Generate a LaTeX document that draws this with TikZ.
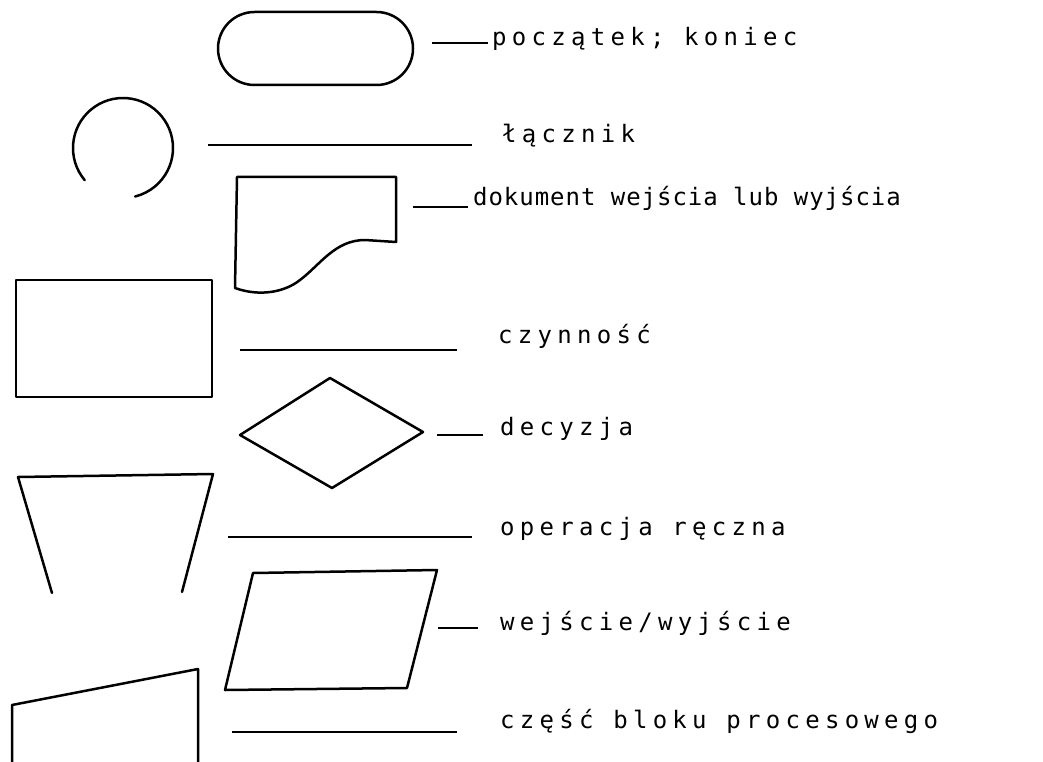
\documentclass[tikz,border=0pt]{standalone}
\usepackage{fontspec}
\setmonofont{DejaVu Sans Mono}
\newfontfamily\lblfont[LetterSpace=22]{DejaVu Sans Mono}
\newfontfamily\lblfontnarrow[LetterSpace=4]{DejaVu Sans Mono}
\tikzset{
  shapeline/.style={draw=black, line width=2.5pt, line join=round, line cap=round},
  leader/.style={draw=black, line width=2.3pt},
  lbl/.style={anchor=base west, inner sep=0pt, font=\lblfont\fontsize{24}{28}\selectfont},
  lblnarrow/.style={anchor=base west, inner sep=0pt, font=\lblfontnarrow\fontsize{24}{28}\selectfont}
}
\begin{document}
\begin{tikzpicture}[x=1pt, y=-1pt]
\useasboundingbox (0,0) rectangle (1043,762);

% 1 terminal (y axis points down, so angles run clockwise on the page)
\draw[shapeline] (254.5,12) -- (376.5,12) arc[start angle=-90, end angle=90, radius=36.5]
  -- (254.5,85) arc[start angle=90, end angle=270, radius=36.5] -- cycle;
\coordinate (c1a) at (432,43);
\coordinate (c1b) at (488,43);
\node[lbl] (l1) at (492,46) {początek; koniec};
\draw[leader] (c1a) -- (c1b);

% 2 connector circle (open at lower left)
\draw[shapeline] (123,148) ++(140:50) arc[start angle=140, end angle=436, radius=50];
\coordinate (c2a) at (208,145);
\coordinate (c2b) at (472,145);
\node[lbl] (l2) at (502,143) {łącznik};
\draw[leader] (c2a) -- (c2b);

% 3 document
\draw[shapeline] (237,177) -- (396,177) -- (396,242) -- (365,240)
  .. controls (335,240) and (320,265) .. (300,280)
  .. controls (285,292) and (260,297) .. (235,288) -- cycle;
\coordinate (c3a) at (413,207);
\coordinate (c3b) at (468,207);
\node[lblnarrow] (l3) at (473,205) {dokument wejścia lub wyjścia};
\draw[leader] (c3a) -- (c3b);

% 4 process
\draw[shapeline] (16,280) rectangle (212,397);
\coordinate (c4a) at (240,350);
\coordinate (c4b) at (457,350);
\node[lbl] (l4) at (498,343) {czynność};
\draw[leader] (c4a) -- (c4b);

% 5 decision
\draw[shapeline] (240,435) -- (330,378) -- (423,432) -- (332,488) -- cycle;
\coordinate (c5a) at (437,435);
\coordinate (c5b) at (483,435);
\node[lbl] (l5) at (500,435) {decyzja};
\draw[leader] (c5a) -- (c5b);

% 6 manual operation (open bottom)
\draw[shapeline] (52,593) -- (18,477) -- (213,474) -- (182,592);
\coordinate (c6a) at (228,537);
\coordinate (c6b) at (472,537);
\node[lbl] (l6) at (500,535) {operacja ręczna};
\draw[leader] (c6a) -- (c6b);

% 7 input/output
\draw[shapeline] (253,573) -- (437,570) -- (407,688) -- (225,690) -- cycle;
\coordinate (c7a) at (438,628);
\coordinate (c7b) at (478,628);
\node[lbl] (l7) at (500,630) {wejście/wyjście};
\draw[leader] (c7a) -- (c7b);

% 8 part of process block (open bottom)
\draw[shapeline] (12,762) -- (12,705) -- (198,669) -- (198,762);
\coordinate (c8a) at (232,732);
\coordinate (c8b) at (457,732);
\node[lbl] (l8) at (500,728) {część bloku procesowego};
\draw[leader] (c8a) -- (c8b);
\end{tikzpicture}
\end{document}
